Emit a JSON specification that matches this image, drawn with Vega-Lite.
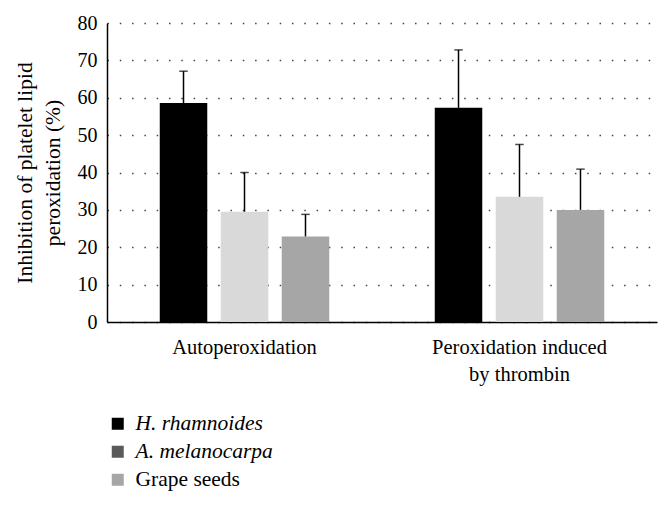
{
  "$schema": "https://vega.github.io/schema/vega-lite/v6.json",
  "autosize": "none",
  "width": 550,
  "height": 299,
  "padding": {"left": 107, "top": 23, "right": 15, "bottom": 183},
  "background": "white",
  "config": {
    "view": {"stroke": null},
    "font": "Liberation Serif",
    "axisY": {"tickCount": 8, "labelOverlap": false, "ticks": false, "domainColor": "#000", "domainWidth": 1.5,
      "labelFontSize": 20, "labelColor": "#000", "labelPadding": 10,
      "grid": true, "gridDash": [1.5, 10.8], "gridColor": "#444", "gridWidth": 1.5,
      "titleFontSize": 21.5, "titleFontWeight": "normal", "titleColor": "#000", "titleLineHeight": 28, "titlePadding": 13}
  },
  "data": {"values": [
    {"group": "Autoperoxidation", "series": "H. rhamnoides", "value": 58.6, "upper": 67.1},
    {"group": "Autoperoxidation", "series": "A. melanocarpa", "value": 29.5, "upper": 40.0},
    {"group": "Autoperoxidation", "series": "Grape seeds", "value": 22.9, "upper": 28.8},
    {"group": "Peroxidation induced by thrombin", "series": "H. rhamnoides", "value": 57.3, "upper": 72.8},
    {"group": "Peroxidation induced by thrombin", "series": "A. melanocarpa", "value": 33.5, "upper": 47.5},
    {"group": "Peroxidation induced by thrombin", "series": "Grape seeds", "value": 30.0, "upper": 40.9}
  ]},
  "encoding": {
    "x": {"field": "group", "type": "nominal", "sort": null,
      "scale": {"paddingInner": 0, "paddingOuter": 0},
      "axis": {"title": null, "labelAngle": 0, "ticks": false, "domainColor": "#000", "domainWidth": 1.5,
        "labelFontSize": 20.5, "labelColor": "#000", "labelPadding": 15, "labelLineHeight": 27,
        "labelExpr": "datum.label === 'Peroxidation induced by thrombin' ? ['Peroxidation induced', 'by thrombin'] : datum.label"}},
    "xOffset": {"field": "series", "type": "nominal", "sort": ["H. rhamnoides", "A. melanocarpa", "Grape seeds"],
      "scale": {"paddingInner": 0.221, "paddingOuter": 0.865}}
  },
  "layer": [
    {
      "mark": {"type": "bar"},
      "encoding": {
        "y": {"field": "value", "type": "quantitative",
          "scale": {"domain": [0, 80]},
          "axis": {"title": ["Inhibition of platelet lipid", "peroxidation (%)"]}},
        "fill": {"field": "series", "type": "nominal",
          "scale": {"domain": ["A. melanocarpa", "Grape seeds", "H. rhamnoides"], "range": ["#d9d9d9", "#a6a6a6", "#000000"]},
          "legend": null}
      }
    },
    {
      "mark": {"type": "rule", "color": "#000", "strokeWidth": 1.5},
      "encoding": {
        "y": {"field": "value", "type": "quantitative"},
        "y2": {"field": "upper"}
      }
    },
    {
      "mark": {"type": "tick", "color": "#000", "size": 8.5, "thickness": 1.5, "orient": "horizontal"},
      "encoding": {
        "y": {"field": "upper", "type": "quantitative"}
      }
    },
    {
      "mark": {"type": "square", "filled": true, "opacity": 0},
      "encoding": {
        "y": {"field": "value", "type": "quantitative"},
        "color": {"field": "series", "type": "nominal",
          "scale": {"domain": ["H. rhamnoides", "A. melanocarpa", "Grape seeds"], "range": ["#000000", "#5a5a5a", "#a6a6a6"]},
          "legend": {"title": null, "orient": "none", "legendX": 0, "legendY": 390, "direction": "vertical",
            "symbolType": "square", "symbolSize": 144, "symbolStrokeWidth": 0, "symbolOpacity": 1, "labelFontSize": 21.5, "labelColor": "#000",
            "labelOffset": 7, "rowPadding": 5,
            "encode": {
              "labels": {"update": {"fontStyle": {"signal": "datum.value === 'Grape seeds' ? 'normal' : 'italic'"}}}
            }}}
      }
    }
  ]
}
